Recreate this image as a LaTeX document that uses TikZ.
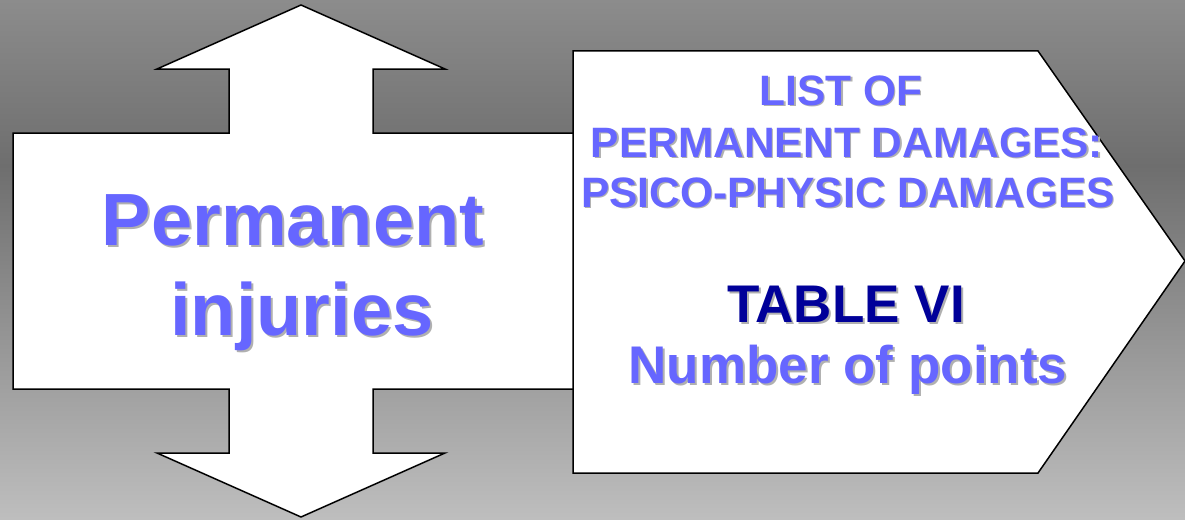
\documentclass[tikz,border=0pt]{standalone}
\usepackage{fontspec}
\setmainfont{Liberation Sans}
\definecolor{txtblue}{HTML}{6666FF}
\definecolor{navy}{HTML}{000099}
\definecolor{shad}{HTML}{B0B0B0}
\definecolor{bgtop}{RGB}{140,140,140}
\definecolor{bgmid}{RGB}{110,110,110}
\definecolor{bgbot}{RGB}{190,190,190}
\begin{document}
\begin{tikzpicture}[x=1pt,y=-1pt,
  whitepoly/.style={fill=white,draw=black,line width=1.5pt,line join=miter},
  lbl/.style={inner sep=0pt,anchor=base,font=\bfseries},
  bigtxt/.style={lbl,font=\fontsize{74}{80}\selectfont\bfseries},
  medtxt/.style={lbl,font=\fontsize{42.5}{48}\selectfont\bfseries},
  tabtxt/.style={lbl,font=\fontsize{53}{60}\selectfont\bfseries}]
\useasboundingbox (0,0) rectangle (1185,519);
% background gradient
\shade[top color=bgtop,bottom color=bgmid] (0,0) rectangle (1185,166);
\shade[top color=bgmid,bottom color=bgbot] (0,165) rectangle (1185,519);
% double arrow with box
\draw[whitepoly] (301,5) -- (445,69) -- (373,69) -- (373,133) -- (580,133)
  -- (580,389) -- (373,389) -- (373,453) -- (445,453) -- (301,517)
  -- (157,453) -- (229,453) -- (229,389) -- (13,389) -- (13,133)
  -- (229,133) -- (229,69) -- (157,69) -- cycle;
% pentagon
\draw[whitepoly] (573,51) -- (1038,51) -- (1185,261) -- (1038,473) -- (573,473) -- cycle;
% left text
\foreach \t/\x/\y/\n in {Permanent/293/245/pa,injuries/302/335/pb}{
  \node[bigtxt,text=shad] (\n s) at (\x+2,\y+2) {\t};
  \node[bigtxt,text=txtblue] (\n) at (\x,\y) {\t};
}
% right text
\foreach \t/\x/\y/\n in {LIST OF/841/105/ra,PERMANENT DAMAGES:/847/157/rb,PSICO-PHYSIC DAMAGES/848/207/rc}{
  \node[medtxt,text=shad] (\n s) at (\x+1.5,\y+1.5) {\t};
  \node[medtxt,text=txtblue] (\n) at (\x,\y) {\t};
}
\node[tabtxt,text=shad] (tabs) at (848,324) {TABLE VI};
\node[tabtxt,text=navy] (tab) at (846,322) {TABLE VI};
\node[tabtxt,text=shad] (nums) at (850,385) {Number of points};
\node[tabtxt,text=txtblue] (num) at (848,383) {Number of points};
\end{tikzpicture}
\end{document}
